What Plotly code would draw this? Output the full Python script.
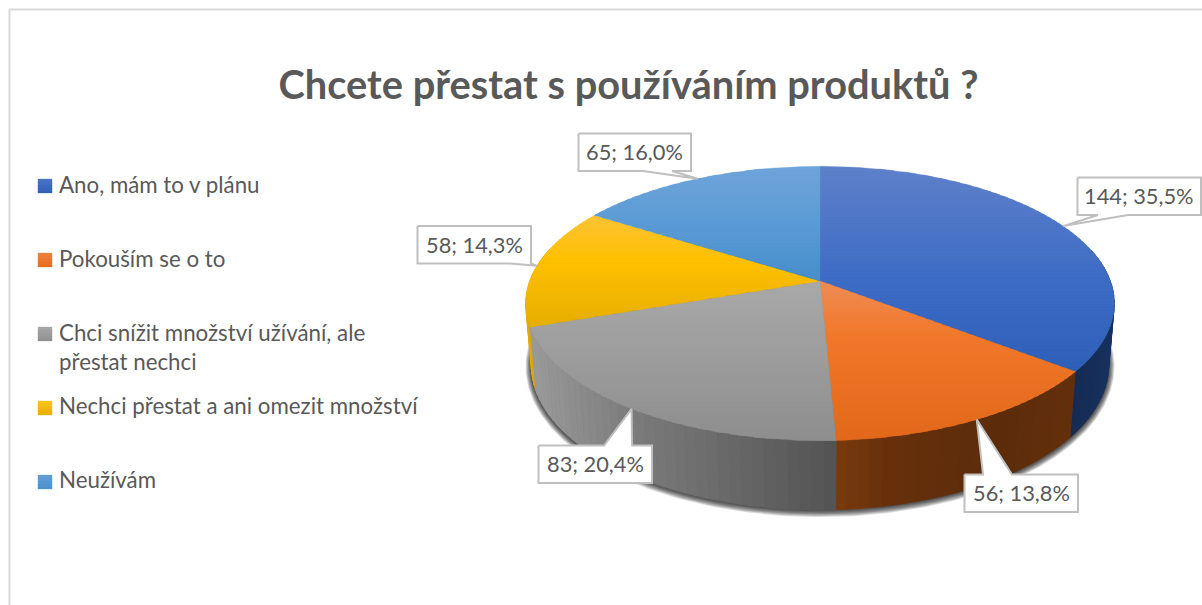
import math
import plotly.graph_objects as go

# ---- data ----
categories = ["Ano, mám to v plánu", "Pokouším se o to",
              "Chci snížit množství užívání, ale<br>přestat nechci",
              "Nechci přestat a ani omezit množství", "Neužívám"]
values = [144, 56, 83, 58, 65]
title_text = "Chcete přestat s používáním produktů ?"

# ---- style / layout (pixels of the 1202x605 canvas) ----
W, H = 1202, 605
TEXT = "#595959"
FONT = "Lato"
CX = 820
TOP = dict(cy=281, R=290.3, A=133.5, k=0.1636)
BOT = dict(cy=342, R=285, A=141, k=0.16)

top_stops = [
    [(166, "#5f81ca"), (280, "#3d6cc5"), (372, "#2f60b8")],
    [(281, "#ee8c55"), (335, "#f1782a"), (441, "#e2681a")],
    [(281, "#a9a9a9"), (441, "#8e8e8e")],
    [(215, "#fcc336"), (262, "#ffc000"), (327, "#e6ae00")],
    [(166, "#6fa4d9"), (225, "#5b9bd5"), (281, "#478ecb")],
]
side_stops = [
    [(1070, "#132a52"), (1115, "#17315f")],
    [(836, "#7a3a0c"), (890, "#66300b"), (1000, "#5c2c0a"), (1075, "#632f0b")],
    [(525, "#9c9c9c"), (630, "#7c7c7c"), (836, "#535353")],
    [(525, "#e2a900"), (540, "#e2a900")],
    [(525, "#5b9bd5"), (820, "#5b9bd5")],
]
legend_text_y = [184.5, 258.5, 346.5, 405.5, 479.5]
legend_swatch = [[(179, "#4a74c8"), (193, "#2f60b8")], [(253, "#ef8340"), (267, "#e66c1c")],
                 [(327, "#a8a8a8"), (341, "#909090")], [(401, "#fdc41c"), (415, "#e8b000")],
                 [(475, "#639fd7"), (489, "#4a90cf")]]
# callout boxes: x0, y0, x1, y1, pointer base x0, x1, side of the box the pointer leaves
boxes = [
    (1077.5, 177.5, 1201, 215, 1098, 1128, "bottom"),
    (964.5, 474.5, 1078, 512, 983, 1012, "top"),
    (538.5, 445.5, 652, 483, 604, 632, "top"),
    (417.5, 226, 531, 263.5, 510, 531, "bottom"),
    (578.5, 133.5, 691, 171, 643, 672, "bottom"),
]


def hex2rgb(c):
    return [int(c[i:i + 2], 16) for i in (1, 3, 5)]


def ramp(stops, t):
    if t <= stops[0][0]:
        return stops[0][1]
    for (a, ca), (b, cb) in zip(stops, stops[1:]):
        if t <= b:
            f = (t - a) / (b - a)
            ra, rb = hex2rgb(ca), hex2rgb(cb)
            return "#%02x%02x%02x" % tuple(round(p + (q - p) * f) for p, q in zip(ra, rb))
    return stops[-1][1]


def project(theta, plane, grow=0.0, r=1.0):
    u, v = r * math.sin(theta), -r * math.cos(theta)
    w = 1 - plane["k"] * v
    return (CX + (plane["R"] + grow) * u / w, plane["cy"] + (plane["A"] + grow) * v / w)


def clip_band(poly, lo, hi):
    def clip(pts, inside, y):
        out = []
        for i, p in enumerate(pts):
            q = pts[(i + 1) % len(pts)]
            if inside(p):
                out.append(p)
            if inside(p) != inside(q):
                f = (y - p[1]) / (q[1] - p[1])
                out.append((p[0] + (q[0] - p[0]) * f, y))
        return out
    pts = clip(poly, lambda p: p[1] >= lo, lo)
    return clip(pts, lambda p: p[1] <= hi, hi) if pts else []


fig = go.Figure()


def polygon(pts, fill, line=None, lw=0.7):
    xs = [p[0] for p in pts] + [pts[0][0]]
    ys = [p[1] for p in pts] + [pts[0][1]]
    fig.add_trace(go.Scatter(x=xs, y=ys, mode="lines", fill="toself", fillcolor=fill,
                             line=dict(color=line or fill, width=lw),
                             hoverinfo="skip", showlegend=False))


def gradient_polygon(poly, stops, band=4):
    # bands overlap downwards so no seam of the background shows between them
    ys = [p[1] for p in poly]
    y = min(ys)
    while y < max(ys):
        part = clip_band(poly, y, min(y + band + 1.5, max(ys)))
        if len(part) >= 3:
            polygon(part, ramp(stops, y + band / 2), lw=0.3)
        y += band


total = sum(values)
edges = [0]
for val in values:
    edges.append(edges[-1] + val / total * 2 * math.pi)

# frame
fig.add_shape(type="rect", x0=9.5, y0=9.5, x1=W + 20, y1=H + 20,
              line=dict(color="#d9d9d9", width=2), layer="below")

# soft shadow under the pie
ring = [i / 180 * math.pi for i in range(360)]
for d in range(7, 0, -1):
    pts = [project(t, dict(BOT, cy=BOT["cy"] + 0.5), grow=d * 0.8) for t in ring]
    polygon(pts, "rgba(0,0,0,0.14)", line="rgba(0,0,0,0)", lw=0)

# side wall, back to front
walls = []
step = 2 / 180 * math.pi
for i in range(len(values)):
    t = edges[i]
    while t < edges[i + 1] - 1e-9:
        t2 = min(t + step, edges[i + 1])
        walls.append((-math.cos((t + t2) / 2), i, t, t2))
        t = t2
for _, i, t, t2 in sorted(walls):
    if -math.cos((t + t2) / 2) < -0.25:
        continue
    a, b = project(t, TOP), project(t2, TOP)
    c, d = project(t2, BOT), project(t, BOT)
    polygon([a, b, c, d], ramp(side_stops[i], (a[0] + b[0]) / 2))

# top face
for i in range(len(values)):
    n = max(3, int((edges[i + 1] - edges[i]) / (math.pi / 180)))
    arc = [project(edges[i] + (edges[i + 1] - edges[i]) * j / n, TOP) for j in range(n + 1)]
    gradient_polygon([(CX, TOP["cy"])] + arc, top_stops[i], band=3)

# data label callouts
for i, val in enumerate(values):
    mid = (edges[i] + edges[i + 1]) / 2
    tip = project(mid, TOP)
    x0, y0, x1, y1, b0, b1, side = boxes[i]
    if side == "bottom":
        pts = [(x0, y0), (x1, y0), (x1, y1), (b1, y1), tip, (b0, y1), (x0, y1)]
    else:
        pts = [(x0, y0), (b0, y0), tip, (b1, y0), (x1, y0), (x1, y1), (x0, y1)]
    polygon(pts, "#ffffff", line="#bfbfbf", lw=2)
    label = f"{val}; {val / total * 100:.1f}%".replace(".", ",")
    fig.add_annotation(x=(x0 + x1) / 2, y=(y0 + y1) / 2 - 0.5, text=label, showarrow=False,
                       xanchor="center", yanchor="middle",
                       font=dict(family=FONT, size=21.8, color=TEXT))

# legend
for i, cat in enumerate(categories):
    gradient_polygon([(38, legend_swatch[i][0][0]), (52, legend_swatch[i][0][0]),
                      (52, legend_swatch[i][1][0]), (38, legend_swatch[i][1][0])],
                     legend_swatch[i], band=3)
    fig.add_annotation(x=56.5, y=legend_text_y[i], text=cat, showarrow=False, align="left",
                       xanchor="left", yanchor="middle",
                       font=dict(family=FONT, size=22.3, color=TEXT))

fig.update_layout(
    width=W, height=H, margin=dict(l=0, r=0, t=0, b=0),
    paper_bgcolor="white", plot_bgcolor="white", showlegend=False,
    title=dict(text=f"<b>{title_text}</b>", x=628.5 / W, xanchor="center", xref="paper",
               y=1 - 85 / H, yanchor="middle", yref="paper",
               font=dict(family=FONT, size=39.8, color=TEXT)),
    xaxis=dict(range=[0, W], visible=False, fixedrange=True),
    yaxis=dict(range=[H, 0], visible=False, fixedrange=True),
)
fig.write_html("out.html", config={"displayModeBar": False},
               post_script="document.body.style.margin='0';document.documentElement.style.overflow='hidden';")
